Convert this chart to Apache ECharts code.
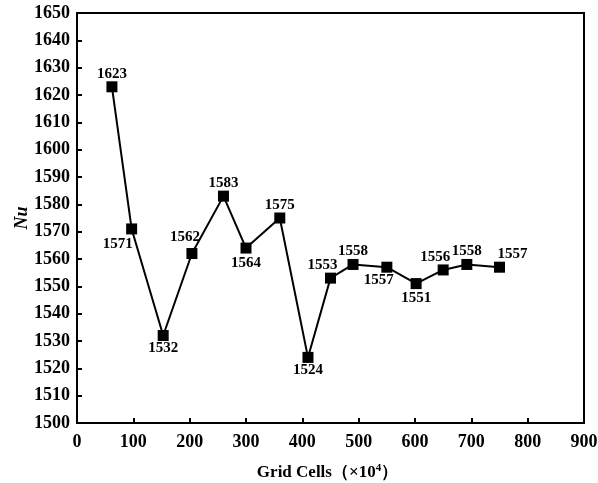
<!DOCTYPE html>
<html>
<head>
<meta charset="utf-8">
<script src="https://cdn.jsdelivr.net/npm/echarts@6/dist/echarts.min.js"></script>
<style>
  html, body { margin: 0; padding: 0; background: #fff; }
  #chart { width: 598px; height: 483px; }
</style>
</head>
<body>
<div id="chart"></div>
<script>
// Grid-independence study: Nusselt number vs. mesh size
const gridCells = [62, 97, 153, 204, 260, 300, 360, 410, 450, 490, 550, 602, 650, 692, 750];
const nuValues  = [1623, 1571, 1532, 1562, 1583, 1564, 1575, 1524, 1553, 1558, 1557, 1551, 1556, 1558, 1557];
const xTicks = [0, 100, 200, 300, 400, 500, 600, 700, 800, 900];
const yTicks = [1500, 1510, 1520, 1530, 1540, 1550, 1560, 1570, 1580, 1590, 1600, 1610, 1620, 1630, 1640, 1650];

// Value-label placement per point: [position, dx, dy]
const labelPlacement = [
  ['top', 0, 0], ['bottom', -14, 2], ['bottom', 0, 0], ['top', -7, -3], ['top', 0, 0],
  ['bottom', 0, 2], ['top', 0, 0], ['bottom', 0, 0], ['top', -8, 0], ['top', 0, 0],
  ['bottom', -8, 0], ['bottom', 0, 2], ['top', -8, 0], ['top', 0, 0], ['top', 13, 0]
];

const FONT = '"Liberation Serif", "Times New Roman", serif';

const points = gridCells.map((x, i) => ({
  value: [x, nuValues[i]],
  label: {
    show: true,
    formatter: String(nuValues[i]),
    position: labelPlacement[i][0],
    offset: [labelPlacement[i][1], labelPlacement[i][2]]
  }
}));

const chart = echarts.init(document.getElementById('chart'));
chart.setOption({
  animation: false,
  grid: {
    left: 77, right: 14, top: 13, bottom: 60,
    outerBoundsMode: 'none', containLabel: false,
    show: true, borderColor: '#000', borderWidth: 2, backgroundColor: 'transparent'
  },
  xAxis: {
    type: 'value',
    min: xTicks[0], max: xTicks[xTicks.length - 1], interval: 100,
    name: '{b|Grid Cells（×10}{s|4}{b|）}',
    nameLocation: 'middle', nameGap: 40,
    nameMoveOverlap: false,
    nameTextStyle: {
      padding: [0, 6, 0, 0],
      rich: {
        b: { fontFamily: FONT, fontWeight: 'bold', fontSize: 17, color: '#000' },
        s: { fontFamily: FONT, fontWeight: 'bold', fontSize: 11, color: '#000', verticalAlign: 'top', padding: [0, 0, 8, 0] }
      }
    },
    axisLine: { lineStyle: { color: '#000', width: 2 } },
    axisTick: { inside: true, length: 5, lineStyle: { color: '#000', width: 2 } },
    axisLabel: { fontFamily: FONT, fontWeight: 'bold', fontSize: 18, color: '#000', margin: 10 },
    splitLine: { show: false }
  },
  yAxis: {
    type: 'value',
    min: yTicks[0], max: yTicks[yTicks.length - 1], interval: 10,
    name: 'Nu',
    nameLocation: 'middle', nameGap: 46,
    nameMoveOverlap: false,
    nameTextStyle: { fontFamily: FONT, fontWeight: 'bold', fontStyle: 'italic', fontSize: 18, color: '#000' },
    axisLine: { lineStyle: { color: '#000', width: 2 } },
    axisTick: { inside: true, length: 5, lineStyle: { color: '#000', width: 2 } },
    axisLabel: { fontFamily: FONT, fontWeight: 'bold', fontSize: 18, color: '#000', margin: 7, formatter: v => String(v) },
    splitLine: { show: false }
  },
  series: [{
    type: 'line',
    data: points,
    symbol: 'rect',
    symbolSize: 11,
    itemStyle: { color: '#000' },
    lineStyle: { color: '#000', width: 2 },
    label: { fontFamily: FONT, fontWeight: 'bold', fontSize: 15, color: '#000', distance: 0 }
  }]
});
</script>
</body>
</html>
